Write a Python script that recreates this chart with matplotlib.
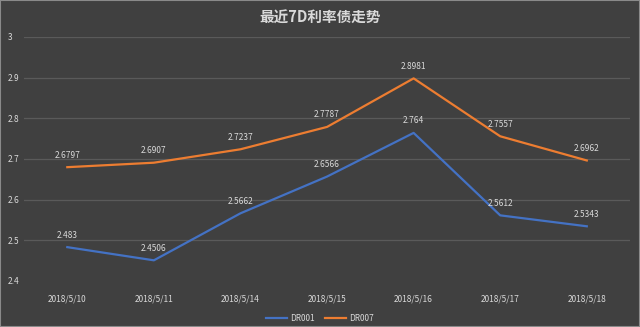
import matplotlib
matplotlib.use("Agg")
import matplotlib.pyplot as plt
from matplotlib.patches import Rectangle

plt.rcParams['font.family'] = ['Noto Sans CJK SC', 'DejaVu Sans']

dates = ["2018/5/10", "2018/5/11", "2018/5/14", "2018/5/15", "2018/5/16", "2018/5/17", "2018/5/18"]
dr001 = [2.483, 2.4506, 2.5662, 2.6566, 2.764, 2.5612, 2.5343]
dr007 = [2.6797, 2.6907, 2.7237, 2.7787, 2.8981, 2.7557, 2.6962]
yticks = [2.4, 2.5, 2.6, 2.7, 2.8, 2.9, 3.0]
ytick_labels = ["2.4", "2.5", "2.6", "2.7", "2.8", "2.9", "3"]

bg = "#404040"
txt = "#d9d9d9"
blue = "#4472C4"
orange = "#ED7D31"

fig = plt.figure(figsize=(6.4, 3.27), dpi=100, facecolor=bg)
ax = fig.add_axes([0.0375, 0.141, 0.947, 0.746])
ax.set_facecolor(bg)

x = list(range(len(dates)))
ax.plot(x, dr001, color=blue, lw=1.6, label="DR001")
ax.plot(x, dr007, color=orange, lw=1.6, label="DR007")

for xi, v in zip(x, dr001):
    ax.annotate(f"{v:g}", (xi, v), xytext=(0, 5.5), textcoords="offset points",
                ha="center", va="bottom", fontsize=6, color=txt)
for xi, v in zip(x, dr007):
    ax.annotate(f"{v:g}", (xi, v), xytext=(0, 5.5), textcoords="offset points",
                ha="center", va="bottom", fontsize=6, color=txt)

ax.set_xlim(-0.5, len(dates) - 0.5)
ax.set_ylim(2.4, 3.0)
ax.set_yticks(yticks)
ax.set_yticklabels(ytick_labels, ha="left")
ax.set_xticks(x)
ax.set_xticklabels(dates)
ax.tick_params(axis="both", length=0, colors=txt, labelsize=6)
ax.tick_params(axis="x", pad=10)
ax.tick_params(axis="y", pad=12)
ax.grid(axis="y", color="#5a5a5a", lw=0.9)
ax.yaxis.get_gridlines()[0].set_visible(False)
ax.set_axisbelow(True)
for s in ax.spines.values():
    s.set_visible(False)

fig.text(0.5, 0.945, "最近7D利率债走势", ha="center", va="center",
         fontsize=10.5, color=txt, fontweight="bold")

leg = fig.legend(loc="center", bbox_to_anchor=(0.5, 0.027), ncol=2, frameon=False,
                 fontsize=6, labelcolor=txt, handlelength=2.5, columnspacing=1.2,
                 handletextpad=0.4)

fig.patches.append(Rectangle((0, 0), 1, 1, transform=fig.transFigure, fill=False,
                             edgecolor="#8a8a8a", lw=1.5))

fig.savefig("out.png", dpi=100, facecolor=bg)
